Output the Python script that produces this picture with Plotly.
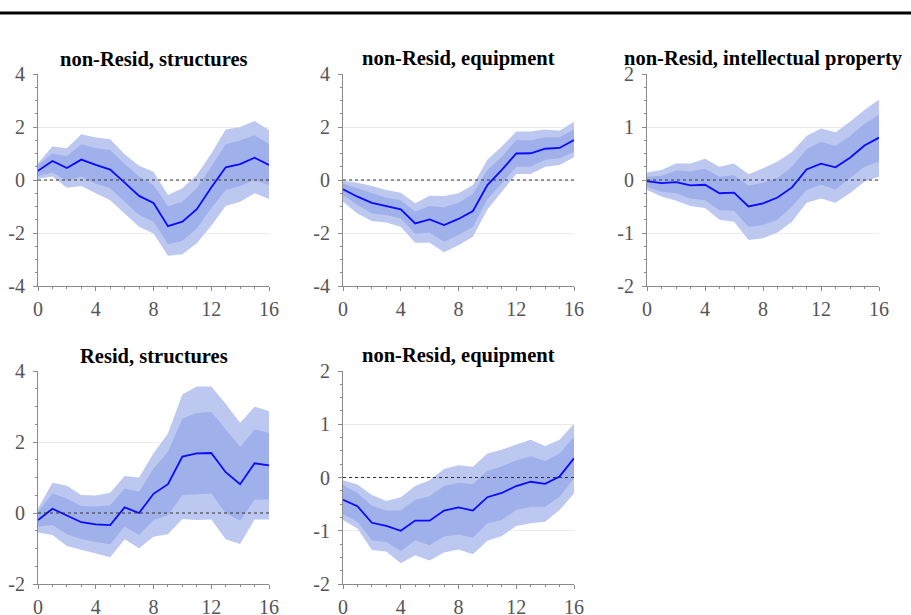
import plotly.graph_objects as go

# Horizon (quarters)
horizon = list(range(17))
x_ticks = [0, 4, 8, 12, 16]

titles = [
    "non-Resid, structures",
    "non-Resid, equipment",
    "non-Resid, intellectual property",
    "Resid, structures",
    "non-Resid, equipment",
]

# Median responses
median_nrs = [0.35, 0.72, 0.45, 0.77, 0.57, 0.39, -0.10, -0.60, -0.87, -1.74, -1.57, -1.10, -0.28, 0.48, 0.60, 0.84, 0.57]
median_nre = [-0.35, -0.63, -0.86, -0.98, -1.11, -1.64, -1.49, -1.70, -1.47, -1.17, -0.19, 0.38, 1.00, 1.01, 1.18, 1.21, 1.51]
median_nri = [-0.02, -0.06, -0.04, -0.10, -0.09, -0.25, -0.24, -0.50, -0.44, -0.33, -0.14, 0.20, 0.31, 0.24, 0.42, 0.65, 0.80]
median_rs = [-0.20, 0.12, -0.07, -0.26, -0.32, -0.34, 0.16, 0.00, 0.54, 0.81, 1.59, 1.68, 1.69, 1.15, 0.81, 1.40, 1.34]
median_nre2 = [-0.42, -0.54, -0.85, -0.91, -1.00, -0.81, -0.81, -0.62, -0.56, -0.62, -0.37, -0.29, -0.16, -0.08, -0.12, 0.02, 0.36]

# Outer (wide) credible band
outer_hi_nrs = [0.63, 1.26, 1.20, 1.73, 1.60, 1.54, 0.97, 0.54, 0.31, -0.57, -0.31, 0.19, 1.00, 1.91, 2.00, 2.23, 1.89]
outer_lo_nrs = [0.05, 0.13, -0.29, -0.23, -0.50, -0.76, -1.26, -1.76, -2.02, -2.86, -2.80, -2.39, -1.73, -0.98, -0.82, -0.50, -0.72]
outer_hi_nre = [-0.03, -0.10, -0.23, -0.38, -0.48, -0.88, -0.59, -0.60, -0.50, -0.19, 0.76, 1.26, 1.83, 1.83, 1.91, 1.86, 2.20]
outer_lo_nre = [-0.82, -1.26, -1.55, -1.60, -1.76, -2.37, -2.37, -2.73, -2.46, -2.14, -1.11, -0.44, 0.23, 0.23, 0.50, 0.57, 0.86]
outer_hi_nri = [0.14, 0.19, 0.31, 0.31, 0.40, 0.25, 0.31, 0.11, 0.22, 0.35, 0.53, 0.83, 0.97, 0.90, 1.10, 1.32, 1.52]
outer_lo_nri = [-0.19, -0.31, -0.39, -0.49, -0.53, -0.75, -0.79, -1.13, -1.10, -0.99, -0.79, -0.43, -0.35, -0.43, -0.25, -0.03, 0.06]
outer_hi_rs = [0.13, 0.85, 0.77, 0.51, 0.49, 0.57, 1.04, 1.00, 1.68, 2.24, 3.34, 3.56, 3.56, 3.08, 2.54, 2.99, 2.87]
outer_lo_rs = [-0.55, -0.62, -0.93, -1.04, -1.15, -1.25, -0.74, -0.99, -0.67, -0.60, -0.17, -0.20, -0.18, -0.74, -0.87, -0.18, -0.18]
outer_hi_nre2 = [-0.05, -0.13, -0.33, -0.44, -0.37, -0.16, -0.05, 0.16, 0.23, 0.20, 0.45, 0.52, 0.62, 0.71, 0.59, 0.71, 1.01]
outer_lo_nre2 = [-0.80, -0.96, -1.36, -1.39, -1.61, -1.46, -1.56, -1.41, -1.35, -1.44, -1.19, -1.10, -0.91, -0.86, -0.83, -0.61, -0.30]

# Inner (narrow) credible band
inner_hi_nrs = [0.57, 1.00, 0.90, 1.35, 1.20, 1.13, 0.60, 0.13, -0.19, -1.00, -0.82, -0.31, 0.50, 1.35, 1.49, 1.69, 1.36]
inner_lo_nrs = [0.15, 0.28, -0.03, 0.13, -0.13, -0.31, -0.82, -1.32, -1.57, -2.42, -2.29, -1.83, -1.07, -0.38, -0.23, 0.00, -0.19]
inner_hi_nre = [-0.13, -0.31, -0.50, -0.67, -0.76, -1.20, -0.98, -1.03, -0.86, -0.53, 0.38, 0.88, 1.51, 1.49, 1.61, 1.61, 1.91]
inner_lo_nre = [-0.57, -0.94, -1.26, -1.32, -1.45, -2.02, -1.99, -2.33, -2.08, -1.76, -0.73, -0.13, 0.50, 0.50, 0.76, 0.82, 1.07]
inner_hi_nri = [0.06, 0.08, 0.18, 0.16, 0.21, 0.06, 0.09, -0.11, -0.05, 0.04, 0.25, 0.58, 0.72, 0.64, 0.83, 1.06, 1.23]
inner_lo_nri = [-0.13, -0.22, -0.25, -0.35, -0.38, -0.57, -0.58, -0.88, -0.85, -0.75, -0.50, -0.19, -0.09, -0.18, 0.03, 0.25, 0.35]
inner_hi_rs = [0.04, 0.55, 0.41, 0.20, 0.18, 0.22, 0.69, 0.60, 1.25, 1.72, 2.66, 2.82, 2.85, 2.35, 1.86, 2.35, 2.26]
inner_lo_rs = [-0.38, -0.34, -0.60, -0.73, -0.82, -0.88, -0.38, -0.62, -0.20, -0.06, 0.51, 0.53, 0.55, 0.00, -0.22, 0.38, 0.38]
inner_hi_nre2 = [-0.14, -0.29, -0.53, -0.62, -0.62, -0.42, -0.35, -0.16, -0.10, -0.12, 0.12, 0.21, 0.32, 0.40, 0.31, 0.45, 0.76]
inner_lo_nre2 = [-0.69, -0.83, -1.18, -1.21, -1.38, -1.18, -1.27, -1.11, -1.07, -1.13, -0.86, -0.80, -0.61, -0.55, -0.55, -0.36, -0.02]

# Y tick values and their printed labels (plain hyphen for negatives)
yticks_wide = [-4, -2, 0, 2, 4]
ylabels_wide = ["-4", "-2", "0", "2", "4"]
yticks_narrow = [-2, -1, 0, 1, 2]
ylabels_narrow = ["-2", "-1", "0", "1", "2"]
yticks_resid = [-2, 0, 2, 4]
ylabels_resid = ["-2", "0", "2", "4"]

panels = [
    (median_nrs, outer_lo_nrs, outer_hi_nrs, inner_lo_nrs, inner_hi_nrs),
    (median_nre, outer_lo_nre, outer_hi_nre, inner_lo_nre, inner_hi_nre),
    (median_nri, outer_lo_nri, outer_hi_nri, inner_lo_nri, inner_hi_nri),
    (median_rs, outer_lo_rs, outer_hi_rs, inner_lo_rs, inner_hi_rs),
    (median_nre2, outer_lo_nre2, outer_hi_nre2, inner_lo_nre2, inner_hi_nre2),
]

y_axes = [
    (yticks_wide, ylabels_wide, 0.5),
    (yticks_wide, ylabels_wide, 0.5),
    (yticks_narrow, ylabels_narrow, 0.25),
    (yticks_resid, ylabels_resid, 0.5),
    (yticks_narrow, ylabels_narrow, 0.25),
]

W, H = 911, 615
col_px = [(38, 269), (343, 574), (647, 879)]
row_px = [(74, 286), (371, 584)]
cells = [(0, 0), (0, 1), (0, 2), (1, 0), (1, 1)]

OUTER = "#bdc8f1"
INNER = "#9fb0ea"
LINE = "#0a0aff"
AXIS = "#8a8a8a"
SERIF = "Liberation Serif, Times New Roman, serif"

fig = go.Figure()
layout = {}
shapes = []
annotations = []

for i, ((med, olo, ohi, ilo, ihi), (yt, yl, mdt), (r, c)) in enumerate(zip(panels, y_axes, cells)):
    n = i + 1
    xa = "x" if n == 1 else f"x{n}"
    ya = "y" if n == 1 else f"y{n}"
    rev = horizon[::-1]
    fig.add_trace(go.Scatter(x=horizon + rev, y=ohi + olo[::-1], fill="toself", fillcolor=OUTER,
                             line=dict(width=0), mode="lines", hoverinfo="skip", showlegend=False,
                             xaxis=xa, yaxis=ya))
    fig.add_trace(go.Scatter(x=horizon + rev, y=ihi + ilo[::-1], fill="toself", fillcolor=INNER,
                             line=dict(width=0), mode="lines", hoverinfo="skip", showlegend=False,
                             xaxis=xa, yaxis=ya))
    fig.add_trace(go.Scatter(x=horizon, y=med, mode="lines", line=dict(color=LINE, width=1.8),
                             showlegend=False, xaxis=xa, yaxis=ya))

    x0, x1 = col_px[c]
    y0, y1 = row_px[r]
    xkey = "xaxis" if n == 1 else f"xaxis{n}"
    ykey = "yaxis" if n == 1 else f"yaxis{n}"
    layout[xkey] = dict(
        domain=[x0 / W, x1 / W], anchor=ya, range=[horizon[0], horizon[-1]], automargin=False,
        tickvals=x_ticks, ticktext=[str(v) for v in x_ticks],
        showgrid=False, zeroline=False, showline=True, linecolor=AXIS, linewidth=1,
        ticks="outside", ticklen=4, tickcolor=AXIS, ticklabelstandoff=1,
        minor=dict(dtick=1, ticks="outside", ticklen=2, tickcolor=AXIS, showgrid=False),
        tickfont=dict(family=SERIF, size=20, color="#555555"),
    )
    layout[ykey] = dict(
        domain=[1 - y1 / H, 1 - y0 / H], anchor=xa, range=[yt[0], yt[-1]], automargin=False,
        tickvals=yt, ticktext=yl,
        showgrid=True, gridcolor="#ebebeb", gridwidth=1, zeroline=False,
        showline=True, linecolor=AXIS, linewidth=1,
        ticks="outside", ticklen=4, tickcolor=AXIS, ticklabelstandoff=4,
        minor=dict(dtick=mdt, tick0=0, ticks="outside", ticklen=2, tickcolor=AXIS, showgrid=False),
        tickfont=dict(family=SERIF, size=20, color="#555555"),
    )
    # Zero reference line
    shapes.append(dict(type="line", xref=xa, yref=ya, x0=horizon[0], x1=horizon[-1], y0=0, y1=0,
                       line=dict(color="#333333", width=1, dash="dot")))
    annotations.append(dict(text=f"<b>{titles[i]}</b>", xref="paper", yref="paper",
                            x=(x0 + x1) / 2 / W, y=1 - (y0 - 2) / H, xanchor="center", yanchor="bottom",
                            showarrow=False, font=dict(family=SERIF, size=20.5, color="black")))

# Rule across the top of the figure
shapes.append(dict(type="line", xref="paper", yref="paper", x0=0, x1=1,
                   y0=1 - 13 / H, y1=1 - 13 / H, line=dict(color="black", width=3)))

fig.update_layout(
    width=W, height=H, margin=dict(l=0, r=0, t=0, b=0, autoexpand=False),
    paper_bgcolor="white", plot_bgcolor="white",
    shapes=shapes, annotations=annotations, **layout,
)

fig.write_html("out.html")
